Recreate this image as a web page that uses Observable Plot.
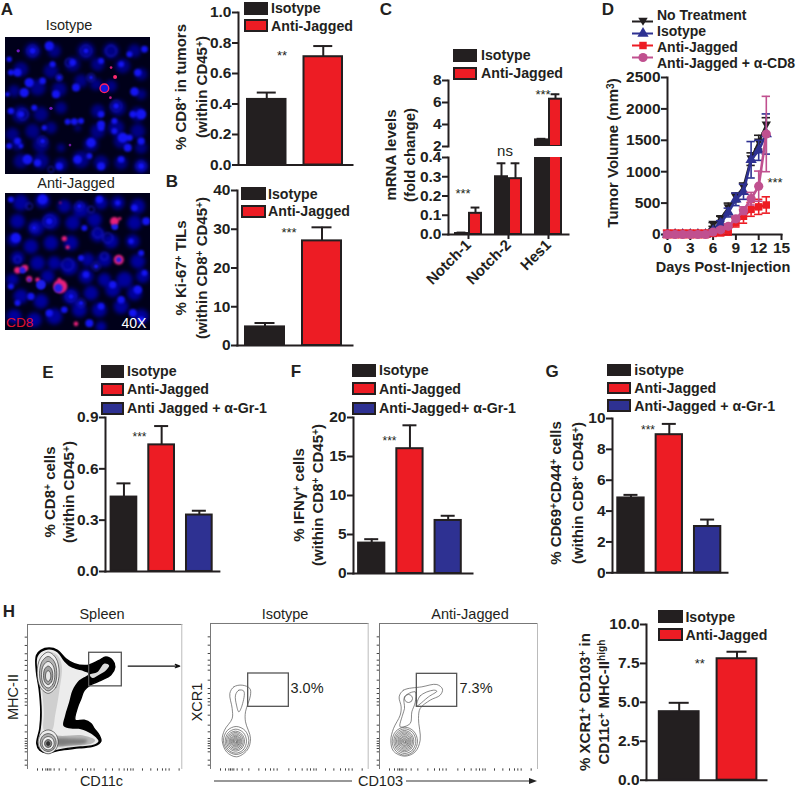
<!DOCTYPE html>
<html><head><meta charset="utf-8">
<script src="https://cdn.jsdelivr.net/npm/d3@7"></script>
<script src="https://cdn.jsdelivr.net/npm/@observablehq/plot@0.6"></script>
<style>
html,body{margin:0;background:#fff}
#fig{position:relative;width:800px;height:788px;overflow:hidden;font-family:"Liberation Sans",Arial,sans-serif;color:#231f20}
#fig svg{position:absolute;max-width:none}
.t{position:absolute;white-space:nowrap;line-height:1}
.t sup{font-size:.68em;line-height:0;vertical-align:baseline;position:relative;top:-.42em}
.sw{position:absolute;box-sizing:border-box;border:2px solid #231f20}
</style></head><body><div id="fig"></div>
<script>
// ---------- data ----------
const BLACK="#231f20",RED="#ed1c24",BLUE="#2e3192",PINK="#c0508f";
const twoGroups=["Isotype","Anti-Jagged"];
const threeGroupsE=["Isotype","Anti-Jagged","Anti Jagged + α-Gr-1"];
const threeGroupsF=["Isotype","Anti-Jagged","Anti-Jagged+ α-Gr-1"];
const threeGroupsG=["isotype","Anti-Jagged","Anti-Jagged + α-Gr-1"];
const twoColors=[BLACK,RED],threeColors=[BLACK,RED,BLUE];
const valsA=[0.43,0.71],errsA=[0.475,0.78],ticksA=[0,0.2,0.4,0.6,0.8,1];
const valsB=[4.8,27],errsB=[5.8,30.5],ticksB=[0,10,20,30,40];
const valsE=[0.435,0.74,0.33],errsE=[0.515,0.85,0.355],ticksE=[0,0.3,0.6,0.9];
const valsF=[3.9,16,6.8],errsF=[4.4,19,7.4],ticksF=[0,5,10,15,20];
const valsG=[4.85,8.95,3.0],errsG=[5.05,9.65,3.45],ticksG=[0,2,4,6,8,10];
const valsH=[4.4,7.8],errsH=[4.97,8.25],ticksH=[0,2.5,5,7.5,10];
const genes=["Notch-1","Notch-2","Hes1"];
const valsCIso=[0.005,0.30,2.6],errsCIso=[0.01,0.37,2.7];
const valsCAnti=[0.11,0.29,6.3],errsCAnti=[0.14,0.37,6.75];
const days=[0,1,2,3,4,5,6,7,8,9,10,11,12,13];
const namesD=["No Treatment","Isotype","Anti-Jagged","Anti-Jagged + α-CD8"];
const noTreatV=[0,0,0,0,0,0,160,250,420,590,750,1200,1470,1740];
const noTreatE=[0,0,0,0,0,0,30,40,80,70,70,100,110,120];
const isoV=[0,0,0,0,0,0,60,180,350,560,680,1190,1340,1600];
const isoE=[0,0,0,0,0,0,20,40,70,100,120,290,160,320];
const antiV=[10,10,10,10,10,10,20,30,60,190,290,400,440,470];
const antiE=[60,60,60,60,60,60,50,50,70,70,110,110,120,130];
const cd8V=[0,0,0,0,0,0,40,75,130,250,380,570,770,1600];
const cd8E=[40,40,40,40,40,40,30,30,40,40,60,100,240,600];
// microscopy blobs: x, y, radius
const isoDim=[[95,60,24],[160,60,20],[255,60,26],[330,60,24],[400,60,20],[60,115,22],[150,120,22],[215,100,22],[290,100,20],[365,105,22],[420,130,18],[40,180,18],[110,170,24],[175,175,22],[240,150,20],[285,160,18],[330,165,18],[420,190,16],[60,250,26],[120,250,22],[180,230,18],[290,240,20],[350,230,24],[410,250,22],[35,310,20],[95,300,22],[150,290,18],[290,300,22],[345,290,24],[410,300,22],[50,340,18],[120,340,24],[270,340,22],[360,330,22],[420,350,18],[60,390,22],[120,390,24],[180,400,20],[240,385,26],[300,395,22],[360,395,20],[420,405,22],[180,350,12],[230,290,10]];
const isoBright=[[145,45,14],[95,60,10],[25,85,8],[50,125,12],[85,155,14],[125,150,10],[30,125,9],[70,185,14],[225,170,12],[165,190,12],[100,230,9],[60,250,10],[30,240,10],[200,272,9],[220,272,10],[240,270,9],[300,250,10],[300,280,12],[345,225,9],[400,182,13],[420,250,15],[395,250,10],[365,320,15],[385,320,10],[270,335,14],[300,290,10],[340,300,9],[420,330,11],[25,345,9],[50,330,10],[125,330,8],[80,385,15],[110,395,11],[175,405,11],[230,385,13],[300,405,12],[360,385,10],[420,405,10],[380,350,12],[270,140,7],[255,60,8],[360,100,9],[410,125,11],[430,55,10],[215,95,10],[155,100,9],[300,90,9],[385,70,9],[175,140,8],[20,190,7],[130,290,8],[60,345,7],[340,270,9],[265,375,9]];
const isoRings=[[95,60,16],[255,60,16],[330,60,16],[205,95,12],[65,250,16],[125,330,14],[150,415,9],[270,140,12],[345,225,16],[420,405,15],[175,140,10]];
const isoPink=[[52,60,5,"#7018c0"],[150,232,5,"#7018c0"],[342,138,6,"#ff2a70"],[330,110,4,"#d0207a"],[328,200,4,"#c0208a"],[207,342,4,"#7018a0"]];
const isoCell=[[310,172,13]];
const jagDim=[[60,50,24],[125,45,22],[190,60,20],[240,70,24],[300,50,20],[350,50,20],[410,60,22],[50,105,22],[105,125,24],[150,105,26],[215,110,22],[280,100,22],[400,110,22],[40,160,20],[90,180,22],[150,170,22],[210,170,22],[290,145,22],[330,165,22],[395,165,20],[50,215,20],[110,230,22],[160,230,20],[205,240,26],[260,220,20],[310,220,22],[410,225,22],[35,280,18],[140,270,20],[255,270,22],[310,280,20],[370,280,24],[425,270,20],[60,330,22],[120,345,22],[210,330,24],[270,320,22],[335,310,22],[400,320,22],[40,390,22],[100,400,22],[160,390,24],[235,370,22],[295,370,22],[360,360,22],[420,390,22],[300,420,16]];
const jagBright=[[125,40,15],[45,155,15],[145,105,10],[100,125,7],[435,105,12],[340,120,9],[240,215,9],[120,295,14],[175,305,12],[255,265,10],[335,295,11],[410,310,13],[430,260,9],[360,340,11],[395,380,12],[265,410,12],[420,400,10],[300,360,10],[90,330,11],[50,350,9],[145,380,11],[210,330,8],[240,350,8],[190,370,10],[30,300,9],[390,165,8],[250,125,9],[235,60,7],[295,40,11],[350,50,8],[30,40,9],[400,65,10],[420,200,9],[285,240,8],[65,250,9]];
const jagRings=[[145,105,18],[290,140,14],[320,155,15],[200,235,17],[235,60,13],[270,70,10],[100,125,12],[285,240,13],[310,210,11],[210,330,15],[240,350,13],[85,60,10],[50,220,10]];
const jagPink=[[340,105,13],[356,97,5],[190,157,8],[200,183,6],[353,220,15],[50,252,10],[72,245,10],[85,278,9],[110,280,7],[178,300,21],[175,280,6],[225,412,7],[178,50,3]];
const jagBlueCore=[[342,122,8],[353,220,8],[65,252,9],[85,280,5],[120,295,12],[172,305,13]];
// flow cytometry outlines (arbitrary channel units)
const spleenOuter=[[62,120],[75,105],[100,98],[125,105],[150,130],[175,145],[215,150],[250,135],[270,125],[290,135],[297,155],[285,178],[255,195],[225,208],[205,225],[195,250],[185,275],[178,315],[205,315],[225,325],[235,340],[250,360],[255,378],[235,392],[190,398],[130,405],[95,413],[72,405],[63,385],[72,340],[75,290],[70,220],[62,170]];
const spleenInner=[[65,125],[78,109],[100,102],[125,111],[145,138],[165,155],[205,168],[220,175],[190,195],[170,225],[160,260],[148,300],[143,332],[165,340],[195,342],[225,355],[248,378],[232,389],[180,395],[130,402],[95,410],[74,402],[66,384],[75,340],[78,290],[73,220],[65,170]];
const spleenIsland=[[222,178],[245,170],[265,145],[280,150],[270,165],[250,178],[230,188]];
const spleenShade=[[100,110],[125,120],[138,150],[130,230],[118,300],[108,345],[85,345],[84,290],[78,220],[70,170],[72,130]];
const spleenBand=[[85,360],[140,362],[200,360],[238,375],[228,385],[180,390],[120,395],[85,400]];
const spleenBandDark=[[120,372],[170,370],[215,375],[205,385],[170,388],[125,390]];
const spleenRingsTop=[[97,172,33,62,"#efefef"],[97,175,26,52,"#b4b4b4"],[97,178,20,40,"#ececec"],[97,180,14,28,"#a0a0a0"],[97,182,8,16,"#e8e8e8"]];
const spleenRingsLow=[[97,380,30,36,"#ececec"],[97,382,24,27,"#b0b0b0"],[97,384,18,20,"#f0f0f0"],[97,385,11,12,"#888"],[97,385,5,6,"#333"]];
const isoOuter=[[88,235],[100,215],[125,210],[148,220],[150,240],[135,290],[135,320],[150,370],[140,405],[108,425],[78,410],[65,375],[72,345],[95,310],[95,280]];
const isoInner=[[105,240],[115,225],[130,228],[125,270],[115,290],[108,270]];
const isoContours=[[107,376,38,42],[106,378,32,36],[105,378,27,30],[105,378,23,26],[105,378,19,22],[105,378,16,18],[105,378,13,15],[105,378,10,12],[105,378,7,9],[105,378,5,6],[105,378,3,3]];
const jagOuter=[[102,245],[115,225],[170,215],[215,208],[232,222],[225,240],[195,255],[165,280],[160,310],[165,375],[150,410],[118,423],[85,408],[77,375],[85,340],[105,300],[108,275]];
const jagMid=[[118,245],[150,230],[150,262],[140,290],[135,325],[105,335],[112,300],[118,280]];
const jagInner=[[155,272],[165,242],[205,225],[215,228],[190,245]];
const jagRing=[[130,250,12,12]];
const jagContours=[[119,378,38,42],[119,378,33,37],[118,378,28,32],[118,378,24,28],[118,378,20,24],[118,378,17,20],[118,378,14,16],[118,378,11,13],[118,378,8,9],[118,378,5,6],[118,378,3,3]];
const flowTicksX=[65,80,90,95,100,105,115,130,150,180,200,215,225,235,270,290,310,325,335,345,352,380,405,425,440,450,460,490];
const flowTicksY=[65,90,115,135,150,165,195,220,235,250,260,270,300,330,350,370,378,385,392,400,410,435,450];

// ---------- helpers ----------
const fig=document.getElementById("fig");
const FONT='"Liberation Sans",Arial,sans-serif';
function place(el,left,top){el.style.left=left+"px";el.style.top=top+"px";fig.appendChild(el);return el;}
function txt(x,y,html,o={}){
  const d=document.createElement("div");d.className="t";d.innerHTML=html;
  d.style.fontSize=(o.size||15)+"px";d.style.fontWeight=o.weight||"bold";
  if(o.color)d.style.color=o.color;
  d.style.transform=`translate(${o.anchor==="start"?"0":"-50%"},-50%)`+(o.rotate?` rotate(${o.rotate}deg)`:"");
  if(o.rotate)d.style.transformOrigin="center";
  return place(d,x,y);
}
function legend(x,swW,swH,textX,ys,names,colors){
  names.forEach((n,i)=>{
    const s=document.createElement("div");s.className="sw";
    s.style.width=swW+"px";s.style.height=swH+"px";s.style.background=colors[i];
    place(s,x,ys[i]-swH/2);
    txt(textX,ys[i],n,{anchor:"start",size:14.2});
  });
}
const baseStyle={background:"transparent",overflow:"visible",fontFamily:FONT,color:BLACK};
function barPanel(p){
  const L=p.axis-42,T=p.yTop-12,W=p.end+4-L,H=p.yZero+14-T;
  const rows=p.groups.map((g,i)=>({g,v:p.vals[i],e:p.errs[i],c:p.colors[i]}));
  const step=(p.barR-p.barL+p.gap)/rows.length, band=step-p.gap, cap=p.cap||band/2;
  const plot=Plot.plot({
    width:W,height:H,marginLeft:42,marginRight:4,marginTop:12,marginBottom:14,style:baseStyle,
    x:{domain:p.groups,range:[p.barL-L,p.barR-L],paddingInner:p.gap/step,paddingOuter:0,axis:null,round:false},
    y:{domain:[0,p.ticks[p.ticks.length-1]],axis:null},
    marks:[
      Plot.ruleX(rows,{x:"g",y1:"v",y2:"e",stroke:BLACK,strokeWidth:2}),
      Plot.tickY(rows,{x:"g",y:"e",stroke:BLACK,strokeWidth:2,insetLeft:(band-cap)/2,insetRight:(band-cap)/2}),
      Plot.barY(rows,{x:"g",y:"v",fill:"c",stroke:BLACK,strokeWidth:2}),
      Plot.frame({anchor:"left",stroke:BLACK,strokeWidth:2}),
      Plot.frame({anchor:"bottom",stroke:BLACK,strokeWidth:2}),
      Plot.axisY({ticks:p.ticks,tickFormat:p.fmt,tickSize:6,tickPadding:1,strokeWidth:2,fontSize:15.5,fontWeight:"bold",label:null,color:BLACK})
    ]
  });
  place(plot,L,T);
}
const f1=d3.format(".1f"),f0=d3.format("d");

// ---------- panel letters ----------
[["A",7,8.6],["B",172,181],["C",386,8.6],["D",608,8.6],["E",48,372],["F",296,371],["G",552,371],["H",9,611]]
  .forEach(([l,x,y])=>txt(x,y,l,{size:17}));

// ---------- microscopy ----------
const WINDOW_W=[14,448];
function micro(top,yDom,marks){
  const plot=Plot.plot({width:145,height:137,margin:0,style:{...baseStyle,background:"#00001a"},
    x:{domain:WINDOW_W,axis:null},y:{domain:yDom,axis:null},r:{type:"identity"},marks});
  place(plot,5,top);
}
const rr=d=>d[2]/3;
const soft={clip:true,imageFilter:"blur(1.2px)"};
const softer={clip:true,imageFilter:"blur(2.2px)"};
micro(36.5,[430,20],[
  Plot.dot(isoDim,{x:"0",y:"1",r:rr,fill:"#000084",...softer}),
  Plot.dot(isoRings,{x:"0",y:"1",r:rr,fill:"none",stroke:"#1c1cc8",strokeWidth:1,...soft}),
  Plot.dot(isoBright,{x:"0",y:"1",r:rr,fill:"#1414f2",...soft}),
  Plot.dot(isoCell,{x:"0",y:"1",r:rr,fill:"#1515e0",stroke:"#ff2060",strokeWidth:1.4,clip:true,imageFilter:"blur(.6px)"}),
  Plot.dot(isoPink,{x:"0",y:"1",r:rr,fill:"3",clip:true,imageFilter:"blur(.6px)"})
]);
micro(192.5,[432,22],[
  Plot.dot(jagDim,{x:"0",y:"1",r:rr,fill:"#00009c",...softer}),
  Plot.dot(jagRings,{x:"0",y:"1",r:rr,fill:"none",stroke:"#1c1cc8",strokeWidth:1,...soft}),
  Plot.dot(jagBright,{x:"0",y:"1",r:rr,fill:"#1414f2",...soft}),
  Plot.dot(jagPink,{x:"0",y:"1",r:rr,fill:"#e8207a",clip:true,imageFilter:"blur(.8px)"}),
  Plot.dot(jagBlueCore,{x:"0",y:"1",r:rr,fill:"#2020e8",clip:true,imageFilter:"blur(.8px)"})
]);
txt(69,25,"Isotype",{size:14.5,weight:"normal"});
txt(76,183,"Anti-Jagged",{size:14.5,weight:"normal"});
txt(6,323,"CD8",{size:13.7,weight:"normal",color:"#e01030",anchor:"start"});
txt(134,323,"40X",{size:14,weight:"normal",color:"#fff"});

// ---------- A, B ----------
barPanel({axis:238,end:352,yTop:11.5,yZero:164,barL:247,barR:342,gap:18,cap:19,groups:twoGroups,vals:valsA,errs:errsA,colors:twoColors,ticks:ticksA,fmt:f1});
legend(244,24,13,271,[8,25.5],twoGroups,twoColors);
txt(282,55,"**",{size:13,weight:"normal"});
txt(180,87,"% CD8<sup>+</sup> in tumors",{rotate:-90});
txt(201,87,"(within CD45<sup>+</sup>)",{rotate:-90});
barPanel({axis:237,end:352,yTop:190,yZero:345,barL:245,barR:341,gap:18,cap:20,groups:twoGroups,vals:valsB,errs:errsB,colors:twoColors,ticks:ticksB,fmt:f0});
legend(241,25,13,268,[193.5,211],twoGroups,twoColors);
txt(289,232,"***",{size:13,weight:"normal"});
txt(180,268,"% Ki-67<sup>+</sup> TILs",{rotate:-90});
txt(201,268,"(within CD8<sup>+</sup> CD45<sup>+</sup>)",{rotate:-90});

// ---------- C (broken axis) ----------
const rowsC=genes.flatMap((g,i)=>[
  {i,x1:i-13/40,x2:i-1/40,v:valsCIso[i],e:errsCIso[i],c:BLACK},
  {i,x1:i+1/40,x2:i+13/40,v:valsCAnti[i],e:errsCAnti[i],c:RED}]);
rowsC.forEach(d=>{d.mid=(d.x1+d.x2)/2;d.cap1=d.mid-.11;d.cap2=d.mid+.11;});
function panelCPart(domain,ticks,fmt,yTop,yZero,rows,extra,mb){
  const L=406,T=yTop-8,W=568+4-L,H=yZero+mb-T;
  const plot=Plot.plot({width:W,height:H,marginLeft:42,marginRight:4,marginTop:8,marginBottom:mb,style:baseStyle,
    x:{domain:[-.5,2.5],axis:null},y:{domain,axis:null},
    marks:[
      Plot.ruleX(rows,{x:"mid",y1:"v",y2:"e",stroke:BLACK,strokeWidth:2,clip:true}),
      Plot.ruleY(rows,{y:"e",x1:"cap1",x2:"cap2",stroke:BLACK,strokeWidth:2,clip:true}),
      Plot.rectY(rows,{x1:"x1",x2:"x2",y1:domain[0],y2:"v",fill:"c",stroke:BLACK,strokeWidth:2,clip:true}),
      Plot.frame({anchor:"left",stroke:BLACK,strokeWidth:2}),
      Plot.axisY({ticks,tickFormat:fmt,tickSize:6,tickPadding:1,strokeWidth:2,fontSize:15.5,fontWeight:"bold",label:null,color:BLACK}),
      ...extra
    ]});
  place(plot,L,T);
}
panelCPart([0,0.4],[0,.1,.2,.3,.4],f1,157,234,rowsC,[
  Plot.frame({anchor:"bottom",stroke:BLACK,strokeWidth:2}),
  Plot.axisX({ticks:[0,1,2],tickFormat:i=>genes[i],tickSize:5,tickPadding:3,tickRotate:-45,strokeWidth:2,fontSize:15,fontWeight:"bold",label:null,color:BLACK,textAnchor:"end"})
],70);
panelCPart([2,8],[2,4,6,8],f0,80,146,rowsC.filter(d=>d.v>2),[],2);
legend(453,24,13,481,[55,73],twoGroups,twoColors);
txt(463,193,"***",{size:13,weight:"normal"});
txt(543,94,"***",{size:13,weight:"normal"});
txt(505,150,"ns",{size:15,weight:"normal"});
txt(390,155,"mRNA levels",{rotate:-90});
txt(409,155,"(fold change)",{rotate:-90});

// ---------- D ----------
const triDown={draw(c,s){const r=Math.sqrt(s/3);c.moveTo(-r,-r*.8);c.lineTo(r,-r*.8);c.lineTo(0,r*.9);c.closePath();}};
const seriesD=[
  {name:namesD[0],v:noTreatV,e:noTreatE,c:BLACK,s:triDown,r:4.6},
  {name:namesD[1],v:isoV,e:isoE,c:BLUE,s:"triangle",r:4.2},
  {name:namesD[2],v:antiV,e:antiE,c:RED,s:"square",r:4.2},
  {name:namesD[3],v:cd8V,e:cd8E,c:PINK,s:"circle",r:4.6}];
const marksD=seriesD.flatMap(s=>{
  const rows=days.map((d,i)=>({d,v:s.v[i],lo:s.v[i]-s.e[i],hi:s.v[i]+s.e[i],c1:d-.55,c2:d+.55}));
  return [
    Plot.ruleX(rows,{x:"d",y1:"lo",y2:"hi",stroke:s.c,strokeWidth:1.6}),
    Plot.ruleY(rows,{y:"hi",x1:"c1",x2:"c2",stroke:s.c,strokeWidth:1.6}),
    Plot.ruleY(rows,{y:"lo",x1:"c1",x2:"c2",stroke:s.c,strokeWidth:1.6}),
    Plot.line(rows,{x:"d",y:"v",stroke:s.c,strokeWidth:2.6}),
    Plot.dot(rows,{x:"d",y:"v",fill:s.c,symbol:()=>s.s,r:s.r})
  ];
});
place(Plot.plot({width:781+8-615,height:234+24-65,marginLeft:52,marginRight:8,marginTop:12,marginBottom:24,style:baseStyle,
  x:{domain:[0,15],axis:null},y:{domain:[0,2500],axis:null},symbol:{type:"identity"},
  marks:[
    Plot.frame({anchor:"left",stroke:BLACK,strokeWidth:2}),
    Plot.frame({anchor:"bottom",stroke:BLACK,strokeWidth:2}),
    Plot.axisX({ticks:[0,3,6,9,12,15],tickFormat:f0,tickSize:6,tickPadding:1,strokeWidth:2,fontSize:15.5,fontWeight:"bold",label:null,color:BLACK}),
    Plot.axisY({ticks:[0,500,1000,1500,2000,2500],tickFormat:f0,tickSize:6,tickPadding:1,strokeWidth:2,fontSize:15.5,fontWeight:"bold",label:null,color:BLACK}),
    ...marksD]}),615,65);
place(Plot.plot({width:24,height:64,margin:0,style:baseStyle,
  x:{domain:[0,1],range:[1,22],axis:null},y:{type:"point",domain:namesD,range:[7,55],axis:null},symbol:{type:"identity"},
  marks:seriesD.flatMap(s=>[
    Plot.ruleY([s.name],{x1:0,x2:1,stroke:s.c,strokeWidth:2}),
    Plot.dot([s.name],{x:.5,y:d=>d,fill:s.c,symbol:()=>s.s,r:s.r})])}),631,8);
namesD.forEach((n,i)=>txt(657,15+i*16,n,{anchor:"start",size:14}));
txt(775,182,"***",{size:13,weight:"normal"});
txt(612,153,"Tumor Volume (mm<sup>3</sup>)",{rotate:-90});
txt(723,267,"Days Post-Injection",{size:14.5});

// ---------- E F G ----------
barPanel({axis:104.7,end:218.6,yTop:417,yZero:571,barL:110.3,barR:211.4,gap:12,cap:14,groups:threeGroupsE,vals:valsE,errs:errsE,colors:threeColors,ticks:ticksE,fmt:f1});
legend(101,23,13,127,[371,389,408],threeGroupsE,threeColors);
txt(139.5,437,"***",{size:12,weight:"normal"});
txt(49,492,"% CD8<sup>+</sup> cells",{rotate:-90});
txt(68,492,"(within CD45<sup>+</sup>)",{rotate:-90});
barPanel({axis:353.4,end:472.4,yTop:417,yZero:573,barL:358.5,barR:461.2,gap:12,cap:14,groups:threeGroupsF,vals:valsF,errs:errsF,colors:threeColors,ticks:ticksF,fmt:f0});
legend(352.4,24,13,379,[370,388.5,408],threeGroupsF,threeColors);
txt(389.5,441,"***",{size:12,weight:"normal"});
txt(298,495,"% IFN&gamma;<sup>+</sup> cells",{rotate:-90});
txt(317,495,"(within CD8<sup>+</sup> CD45<sup>+</sup>)",{rotate:-90});
barPanel({axis:611.7,end:726.7,yTop:418,yZero:572.3,barL:617,barR:720,gap:12,cap:14,groups:threeGroupsG,vals:valsG,errs:errsG,colors:threeColors,ticks:ticksG,fmt:f0});
legend(607,24,12.5,634.3,[370,388,405.5],threeGroupsG,threeColors);
txt(648,430,"***",{size:12,weight:"normal"});
txt(555,493,"% CD69<sup>+</sup>CD44<sup>+</sup> cells",{rotate:-90});
txt(577,493,"(within CD8<sup>+</sup> CD45<sup>+</sup>)",{rotate:-90});

// ---------- H flow ----------
const octagon=[[1,0],[.707,.707],[0,1],[-.707,.707],[-1,0],[-.707,-.707],[0,-1],[.707,-.707]];
const ringPts=([cx,cy,rx,ry])=>octagon.map(([a,b])=>[cx+a*rx,cy+b*ry]);
const closed=(pts,o)=>Plot.line(pts,{x:"0",y:"1",curve:"catmull-rom-closed",...o});
function flowPlot(left,top,w,h,xDom,yBottom,yTopDom,gate,shapes){
  const tickColor="#444";
  const xLeft=xDom[0];
  place(Plot.plot({width:w,height:h,margin:0,style:baseStyle,
    x:{domain:xDom,axis:null},y:{domain:[yBottom,yTopDom],axis:null},
    marks:[
      ...shapes,
      Plot.frame({anchor:"top",stroke:"#777"}),Plot.frame({anchor:"left",stroke:"#777"}),Plot.frame({anchor:"right",stroke:"#bbb"}),
      Plot.rect([gate],{x1:"0",x2:"1",y1:"2",y2:"3",stroke:"#555",strokeWidth:1.3}),
      Plot.ruleX(flowTicksX,{x:d=>d+(xLeft-35),y1:yBottom+1,y2:yBottom+8,stroke:tickColor}),
      Plot.ruleY(flowTicksY,{y:d=>d,x1:xLeft-7,x2:xLeft,stroke:tickColor})
    ]}),left,top);
}
flowPlot(26.7,624,154.3,144,[35,498],460,27,[220,318,112,213],[
  closed(spleenOuter,{fill:"#000",stroke:"#000"}),
  closed(spleenInner,{fill:"#ececec",stroke:"none"}),
  closed(spleenShade,{fill:"#cfcfcf",stroke:"none"}),
  closed(spleenBand,{fill:"#b8b8b8",stroke:"none"}),
  closed(spleenBandDark,{fill:"#7c7c7c",stroke:"none",imageFilter:"blur(1.5px)"}),
  closed(spleenIsland,{fill:"#dcdcdc",stroke:"none"}),
  ...spleenRingsTop.map(r=>closed(ringPts(r),{fill:r[4],stroke:"#222",strokeWidth:.6})),
  ...spleenRingsLow.map(r=>closed(ringPts(r),{fill:r[4],stroke:"#222",strokeWidth:.6})),
  Plot.arrow([[337,152,492,152]],{x1:"0",y1:"1",x2:"2",y2:"3",stroke:"#111",strokeWidth:1.2,headLength:6,headAngle:40,bend:0})
]);
const contourStyle={fill:"none",stroke:"#555",strokeWidth:.7};
flowPlot(210,623.3,157.7,145,[30,503],460,25,[143,265,175,275],[
  closed(isoOuter,contourStyle),closed(isoInner,contourStyle),
  ...isoContours.map(r=>closed(ringPts(r),contourStyle))
]);
flowPlot(379.3,623.3,158,145,[43,517],460,25,[155,276,176,275],[
  closed(jagOuter,contourStyle),closed(jagMid,contourStyle),closed(jagInner,contourStyle),
  ...jagRing.map(r=>closed(ringPts(r),contourStyle)),
  ...jagContours.map(r=>closed(ringPts(r),contourStyle))
]);
txt(102,614,"Spleen",{size:14.5,weight:"normal"});
txt(285,614,"Isotype",{size:14.5,weight:"normal"});
txt(470,614,"Anti-Jagged",{size:14.5,weight:"normal"});
txt(307,688,"3.0%",{size:14.5,weight:"normal"});
txt(476,688,"7.3%",{size:14.5,weight:"normal"});
txt(13,697,"MHC-II",{size:14.5,weight:"normal",rotate:-90});
txt(197,702,"XCR1",{size:14.5,weight:"normal",rotate:-90});
txt(101.5,780.5,"CD11c",{size:14.5,weight:"normal"});
txt(380.5,780.5,"CD103",{size:14.5,weight:"normal"});
const arrowLine=document.createElementNS("http://www.w3.org/2000/svg","svg");
arrowLine.setAttribute("width","330");arrowLine.setAttribute("height","10");
arrowLine.innerHTML='<line x1="0" y1="5" x2="138" y2="5" stroke="#333" stroke-width="1.2"/><line x1="192" y1="5" x2="318" y2="5" stroke="#333" stroke-width="1.2"/><path d="M315 2 L323 5 L315 8 Z" fill="#222"/>';
place(arrowLine,214,776);

// ---------- H bar ----------
barPanel({axis:646,end:766,yTop:624.3,yZero:780,barL:658.8,barR:756.4,gap:18,cap:20,groups:twoGroups,vals:valsH,errs:errsH,colors:twoColors,ticks:ticksH,fmt:f1});
legend(657.8,25,13,685.4,[616.5,634.5],twoGroups,twoColors);
txt(699.7,662.7,"**",{size:13,weight:"normal"});
txt(584,702,"% XCR1<sup>+</sup> CD103<sup>+</sup> in",{rotate:-90});
txt(603,702,"CD11c<sup>+</sup> MHC-II<sup>high</sup>",{rotate:-90});
</script></body></html>
